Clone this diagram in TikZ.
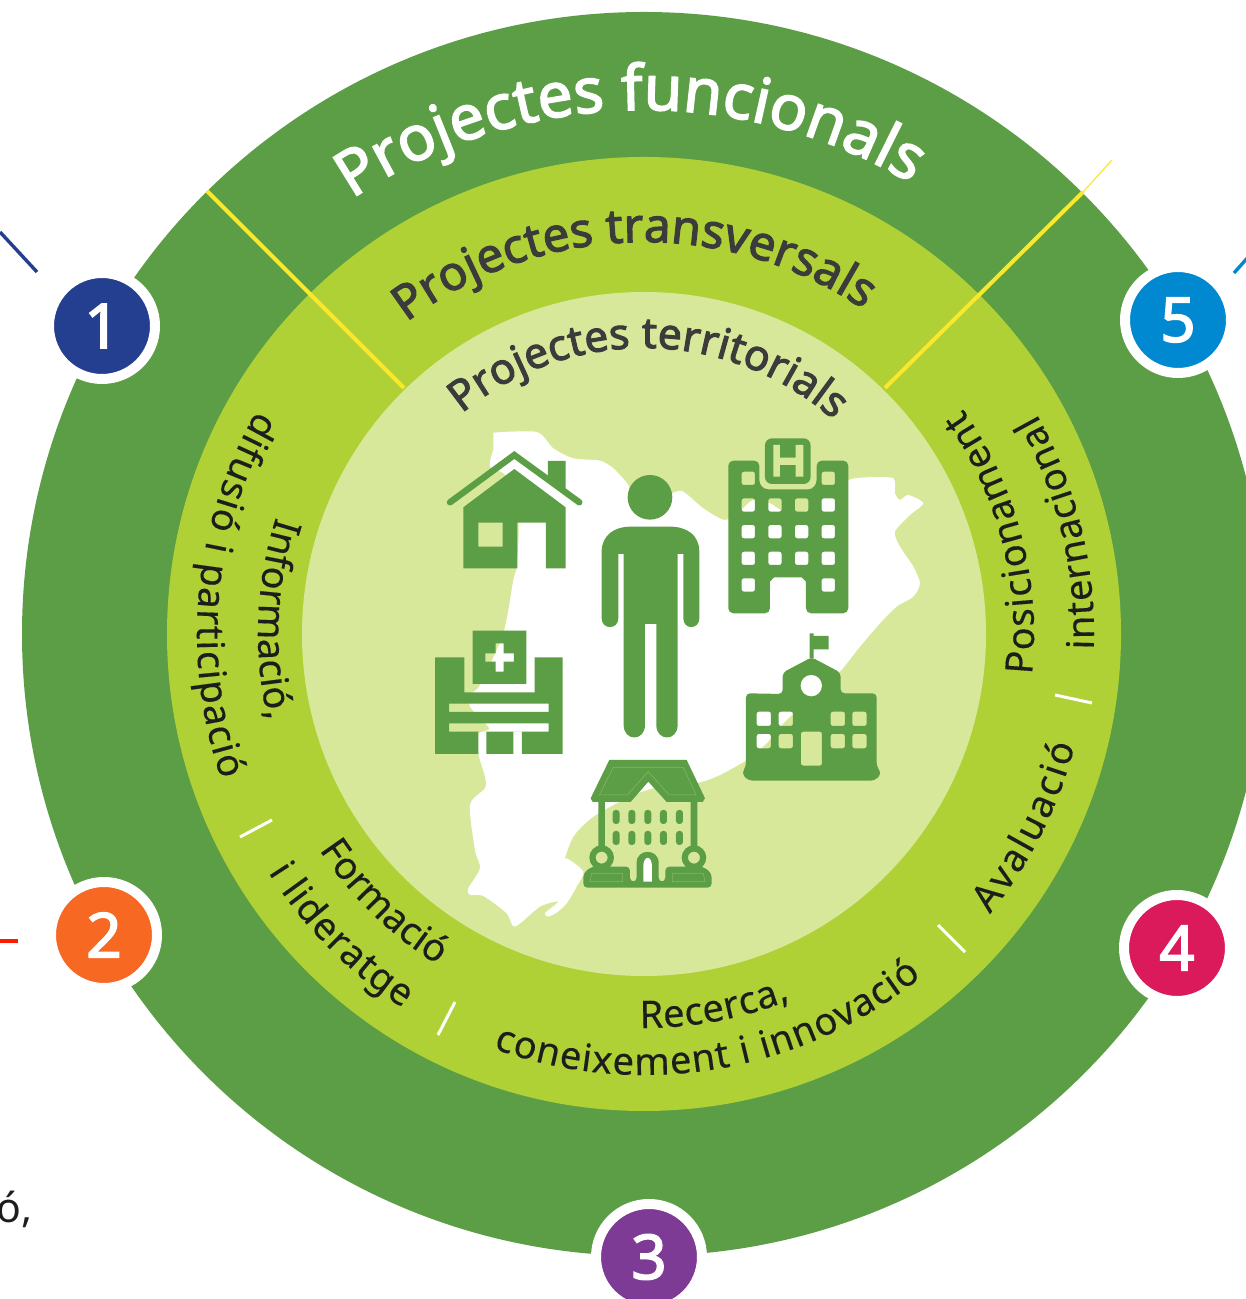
\documentclass[tikz,border=0pt]{standalone}
\usepackage{fontspec}
\setmainfont{Noto Sans}
\newfontfamily\nsbold[FakeBold=2.4]{Noto Sans}
\newfontfamily\nsreg[FakeBold=0.3]{Noto Sans}
\usetikzlibrary{decorations.text}
\definecolor{dkgreen}{HTML}{5C9E46}
\definecolor{midgreen}{HTML}{AFD136}
\definecolor{palegreen}{HTML}{D8E89B}
\definecolor{ylw}{HTML}{F9E82B}
\definecolor{ink}{HTML}{3B3B3B}
\definecolor{inkb}{HTML}{1D1D1B}
\definecolor{cA}{HTML}{243E90}
\definecolor{cB}{HTML}{F76822}
\definecolor{cC}{HTML}{7E3B96}
\definecolor{cD}{HTML}{DA1A5B}
\definecolor{cE}{HTML}{0089D0}
\newcommand\ftA{\nsbold\fontsize{62.6}{66}\selectfont\color{white}}
\newcommand\ftB{\nsbold\fontsize{47.5}{52}\selectfont\color{ink}}
\newcommand\ftC{\nsbold\fontsize{42.5}{44}\selectfont\color{ink}}
\newcommand\ftD{\nsreg\fontsize{38}{40}\selectfont\color{inkb}}
% radius, centre angle, half span, format, text
\newcommand\arctext[5]{\path[decorate,decoration={text along path,text align=center,text={|#4|#5}}]
  (644,665)++({#2+#3}:#1pt) arc[start angle={#2+#3},end angle={#2-#3},radius=#1pt];}
% radius, start angle, end angle, text
\newcommand\fitarc[4]{\path[decorate,decoration={text along path,text align={fit to path},text={|\ftD|#4}}]
  (644,665)++(#2:#1pt) arc[start angle=#2,end angle=#3,radius=#1pt];}
\tikzset{
  icon/.style={fill=dkgreen,draw=none,even odd rule},
  badge/.style={circle,fill=#1,draw=white,line width=10pt,minimum size=106pt,inner sep=0pt,text=white,font=\nsbold\fontsize{62}{64}\selectfont},
  divider/.style={draw=ylw,line width=4pt},
  tick/.style={draw=white,line width=3pt},
  stub/.style={line width=3.4pt},
}
\begin{document}
\begin{tikzpicture}[x=1pt,y=1pt]
\useasboundingbox (0,0) rectangle (1246,1299);
\clip (0,0) rectangle (1246,1299);
\fill[white] (0,0) rectangle (1246,1299);
% rings
\fill[dkgreen] (644,665) circle[radius=622pt];
\fill[midgreen] (644,665) circle[radius=477pt];
\fill[palegreen] (644,665) circle[radius=342pt];
% dividers
\coordinate (yA) at (207,1108);
\coordinate (yB) at (404,911);
\coordinate (yC) at (885,911);
\coordinate (yD) at (1083,1107);
\coordinate (yE) at (1112,1139);
\draw[divider] (yA) -- (yB);
\draw[divider] (yC) -- (yD);
\draw[draw=ylw,line width=1.2pt] (yD) -- (yE);
% map and icons, in a local frame
\begin{scope}[shift={(420,879)},x=0.3333pt,y=-0.3333pt]
\fill[white] plot[smooth,tension=0.45] coordinates {
 (220,38)(350,36)(400,85)(460,115)(540,122)(580,145)(625,195)(640,240)(700,240)(760,218)(790,215)
 (850,265)(915,300)(965,268)(1000,240)(1050,250)(1085,272)(1125,280)(1165,270)(1200,225)(1285,180)(1340,172)(1420,175)
 (1425,220)(1440,240)(1465,225)(1510,250)(1470,285)(1425,335)(1440,380)(1480,440)(1500,490)
 (1480,530)(1430,560)(1380,610)(1320,680)(1260,755)(1180,830)(1100,900)(1040,970)(980,1020)(900,1065)(835,1088)
 (700,1105)(620,1135)(520,1190)(460,1250)(430,1330)(440,1315)(490,1355)(470,1400)(440,1450)
 (410,1478)(385,1490)(375,1480)(415,1445)(360,1460)(285,1520)(260,1480)(190,1428)(150,1425)
 (145,1405)(180,1345)(165,1290)(150,1155)(195,1105)(195,1070)(175,1000)(175,940)(208,925)(150,860)(155,820)(180,795)
 (250,640)(280,480)(290,440)(295,300)(260,170)(210,140)(220,90)} -- cycle;
% house
\fill[icon] (130,262)--(283,147)--(437,262)--(437,445)--(378,445)--(378,308)--(292,308)--(292,445)--(130,445)--cycle
  (175,308) rectangle (248,380);
\fill[icon] (384,123)--(437,123)--(437,207)--(384,168)--cycle;
\draw[dkgreen,line width=6.4pt,line cap=round,line join=miter] (90,247)--(283,105)--(478,247);
% person
\fill[icon] (690,232) circle[radius=67];
\fill[icon] (545,395) .. controls (545,345) and (585,320) .. (630,320) -- (750,320) .. controls (800,320) and (838,345) .. (838,395)
  -- (838,595) .. controls (838,630) and (790,630) .. (790,595) -- (790,402) -- (773,402) -- (773,915)
  .. controls (773,965) and (709,965) .. (709,915) -- (709,612) -- (675,612) -- (675,915)
  .. controls (675,965) and (611,965) .. (611,915) -- (611,402) -- (595,402) -- (595,595)
  .. controls (595,630) and (545,630) .. (545,595) -- cycle;
% hospital
\fill[icon,rounded corners=5pt] (925,122)--(1018,122)--(1018,165) .. controls (1018,195) and (1030,208) .. (1060,208) -- (1150,208)
  .. controls (1178,208) and (1190,195) .. (1190,165) -- (1190,122) -- (1285,122) -- (1285,580) -- (1158,580) -- (1158,500)
  .. controls (1158,485) and (1145,472) .. (1130,472) -- (1078,472) .. controls (1062,472) and (1050,485) .. (1050,500)
  -- (1050,580) -- (925,580) -- cycle
  [rounded corners=2.2pt]
  \foreach \wx/\wy in {965/155,1205/155,965/235,1045/235,1125/235,1205/235,965/315,1045/315,1125/315,1205/315,965/395,1045/395,1125/395,1205/395,965/475,1205/475}{
   (\wx,\wy) rectangle ++(40,40)};
\fill[icon,rounded corners=7pt] (1035,55) rectangle (1172,192);
\fill[palegreen] (1060,75) rectangle (1080,170) (1127,75) rectangle (1150,170) (1080,113) rectangle (1127,135);
% clinic
\fill[icon] (45,712)--(133,712)--(133,817)--(344,817)--(344,712)--(428,712)--(428,1002)--(306,1002)--(306,935)--(280,935)--(280,1002)--(199,1002)--(199,935)--(175,935)--(175,1002)--(45,1002)--cycle
  (87,851) rectangle (386,876) (87,910) rectangle (386,935);
\fill[icon] (158,632)--(319,632)--(319,792)--(158,792)--cycle
  (196,700)--(227,700)--(227,670)--(251,670)--(251,700)--(282,700)--(282,725)--(251,725)--(251,755)--(227,755)--(227,725)--(196,725)--cycle;
% school
\fill[icon] (1169,640) rectangle (1181,716) (1181,648) rectangle (1226,688);
\fill[icon,rounded corners=4pt] (1088,822)--(1088,758)--(1175,712)--(1262,758)--(1262,820)--(1370,820)--(1370,1040)--(1385,1060)--(1365,1082)--(985,1082)--(965,1060)--(978,1040)--(978,820)--cycle
  [rounded corners=2.2pt]
  \foreach \wx/\wy in {1010/875,1076/875,1232/875,1297/875,1010/942,1076/942,1232/942,1297/942}{(\wx,\wy) rectangle ++(43,43)}
  (1143,1037) -- (1143,935) -- (1206,935) -- (1206,1037) -- cycle;
\fill[white] (1174,797) circle[radius=32];
% mansion
\fill[icon] (568,1020)--(800,1020)--(855,1135)--(848,1146)--(740,1146)--(685,1085)--(632,1146)--(518,1146)--(512,1135)--cycle;
\draw[palegreen,opacity=.35,line width=.5pt] (580,1042)--(790,1042)--(828,1125)--(748,1125)--(685,1055)--(622,1125)--(538,1125)--cycle;
\fill[icon] (535,1146) rectangle (555,1290) (812,1146) rectangle (832,1290);
\foreach \wx in {578,625,673,720,768}{\foreach \wy in {1170,1233}{\fill[icon,rounded corners=3pt] (\wx,\wy) rectangle ++(21,42);}}
\fill[icon] (545,1313) circle[radius=37] circle[radius=18];
\fill[icon] (822,1313) circle[radius=37] circle[radius=18];
\fill[icon,rounded corners=4pt] (490,1403)--(490,1360)--(515,1340)--(630,1340)--(630,1385)--(650,1385)--(650,1340)
  .. controls (650,1285) and (716,1285) .. (716,1340) -- (716,1385)--(736,1385)--(736,1340)--(850,1340)--(875,1360)--(875,1403)--cycle;
\fill[white] (670,1385)--(670,1340) .. controls (670,1305) and (696,1305) .. (696,1340) -- (696,1385)--cycle;
\draw[palegreen,opacity=.35,line width=.5pt] (510,1385)--(515,1360)--(608,1360)--(608,1385)--cycle (757,1385)--(757,1360)--(850,1360)--(855,1385)--cycle;
\end{scope}
% arc titles
\arctext{524}{91.6}{50}{\ftA}{Projectes funcionals}
\arctext{392}{91.6}{55}{\ftB}{Projectes transversals}
\arctext{286}{89}{65}{\ftC}{Projectes territorials}
% lower labels
\fitarc{447}{150}{199}{difusió i participació}
\arctext{386}{177.7}{-30}{\ftD}{Informació,}
\fitarc{390}{213.6}{237.7}{Formació}
\fitarc{445}{212.4}{237.2}{i lideratge}
\fitarc{394}{269.4}{291.8}{Recerca,}
\fitarc{441}{250}{309}{coneixement i innovació}
\fitarc{445}{321}{345.5}{Avaluació}
\fitarc{390}{354}{395.2}{Posicionament}
\fitarc{450}{358}{389.3}{internacional}
% ticks
\coordinate (tA) at (240,462); \coordinate (tB) at (272,479);
\coordinate (tC) at (438,264); \coordinate (tD) at (455,297);
\coordinate (tE) at (938,374); \coordinate (tF) at (965,347);
\coordinate (tG) at (1055,604); \coordinate (tH) at (1092,596);
\draw[tick] (tA)--(tB);
\draw[tick] (tC)--(tD);
\draw[tick] (tE)--(tF);
\draw[tick] (tG)--(tH);
% badges
\node[badge=cA] (n1) at (102,973) {1};
\node[badge=cB] (n2) at (104,364) {2};
\node[badge=cC] (n3) at (649,42) {3};
\node[badge=cD] (n4) at (1177,351) {4};
\node[badge=cE] (n5) at (1178,979) {5};
% stubs
\coordinate (sA) at (0,1067); \coordinate (sB) at (37,1027);
\draw[stub,draw=cA] (sA)--(sB);
\coordinate (sC) at (1234,1026); \coordinate (sD) at (1250,1044);
\draw[stub,draw=cE] (sC)--(sD);
\coordinate (sE) at (0,358); \coordinate (sF) at (18,358);
\draw[stub,draw=red!80!orange] (sE)--(sF);
\node[anchor=base west,inner sep=0pt,text=inkb,font=\fontsize{41}{43}\selectfont] (frag) at (-4,76) {ó,};
\end{tikzpicture}
\end{document}
